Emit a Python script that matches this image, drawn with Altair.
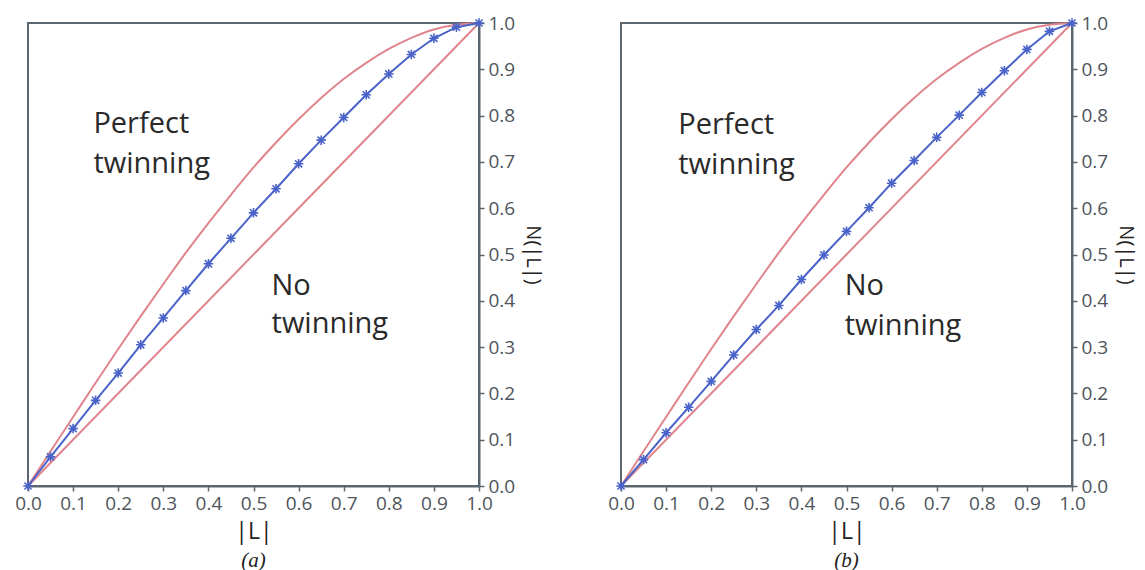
import altair as alt
import pandas as pd

# |L| sampling points
L = [0.0, 0.05, 0.1, 0.15, 0.2, 0.25, 0.3, 0.35, 0.4, 0.45, 0.5,
     0.55, 0.6, 0.65, 0.7, 0.75, 0.8, 0.85, 0.9, 0.95, 1.0]

obs_a = [0.0, 0.063, 0.124, 0.185, 0.244, 0.305, 0.363, 0.422, 0.480, 0.535, 0.590,
         0.642, 0.696, 0.747, 0.796, 0.845, 0.890, 0.932, 0.967, 0.991, 1.0]
obs_b = [0.0, 0.057, 0.115, 0.170, 0.226, 0.283, 0.338, 0.390, 0.446, 0.499, 0.550,
         0.601, 0.654, 0.703, 0.753, 0.801, 0.850, 0.897, 0.943, 0.982, 1.0]

# reference curves (red)
perfect = [0.0, 0.075, 0.149, 0.223, 0.296, 0.367, 0.436, 0.504, 0.568, 0.629, 0.688,
           0.742, 0.792, 0.838, 0.879, 0.914, 0.944, 0.968, 0.986, 0.996, 1.0]
no_twin_x = [0.0, 1.0]
no_twin_y = [0.0, 1.0]

# annotation texts (one row per line)
ann_text = ["Perfect", "twinning", "No", "twinning"]
ann_x_a = [0.145, 0.145, 0.54, 0.54]
ann_y_a = [0.763, 0.676, 0.413, 0.330]
ann_x_b = [0.127, 0.127, 0.496, 0.496]
ann_y_b = [0.760, 0.673, 0.412, 0.326]

tick_vals = [0.0, 0.1, 0.2, 0.3, 0.4, 0.5, 0.6, 0.7, 0.8, 0.9, 1.0]

RED = "#e0848e"
BLUE = "#4a63c9"
AX = "#5b666e"
LAB = "#4f555b"
FONT = "Open Sans"
ASTERISK = "M-1,0L1,0M0,-1L0,1M-0.75,-0.75L0.75,0.75M-0.75,0.75L0.75,-0.75"

W, H = 451, 463


def panel(obs, ax_, ay_, tag):
    xs = alt.Scale(domain=[0, 1], nice=False)
    ys = alt.Scale(domain=[0, 1], nice=False)
    xax = alt.Axis(values=tick_vals, format=".1f", title="|L|", grid=False,
                   labelFlush=False, labelFontSize=19, labelColor=LAB, labelFont=FONT,
                   labelPadding=3, tickSize=5, tickColor=AX, tickWidth=1.5,
                   domainColor=AX, domainWidth=2, titleFont=FONT, titleFontSize=23,
                   titleFontWeight="normal", titleColor="#222222", titlePadding=7)
    yax = alt.Axis(values=tick_vals, format=".1f", title="N(|L|)", orient="right",
                   grid=False, labelFlush=False, labelFontSize=19, labelColor=LAB,
                   labelFont=FONT, labelPadding=4, tickSize=5, tickColor=AX,
                   tickWidth=1.5, domainColor=AX, domainWidth=2, titleFont=FONT,
                   titleFontSize=20, titleFontWeight="normal", titleColor="#222222",
                   titleAngle=90, titlePadding=8)

    df_p = pd.DataFrame({"L": L, "N": perfect})
    df_n = pd.DataFrame({"L": no_twin_x, "N": no_twin_y})
    df_o = pd.DataFrame({"L": L, "N": obs})
    df_t = pd.DataFrame({"t": ann_text, "x": ax_, "y": ay_})

    x = alt.X("L:Q", scale=xs, axis=xax)
    y = alt.Y("N:Q", scale=ys, axis=yax)

    perf = alt.Chart(df_p).mark_line(color=RED, strokeWidth=2, interpolate="monotone").encode(x=x, y=y)
    notw = alt.Chart(df_n).mark_line(color=RED, strokeWidth=2).encode(x=x, y=y)
    line = alt.Chart(df_o).mark_line(color=BLUE, strokeWidth=2).encode(x=x, y=y)
    pts = alt.Chart(df_o).mark_point(shape=ASTERISK, size=90, color=BLUE, filled=False,
                                     strokeWidth=1.6, opacity=1).encode(x=x, y=y)
    txt = alt.Chart(df_t).mark_text(align="left", baseline="alphabetic", font=FONT,
                                    fontSize=29, color="#2a2a2a").encode(
        x=alt.X("x:Q", scale=xs), y=alt.Y("y:Q", scale=ys), text="t:N")

    return alt.layer(notw, perf, line, pts, txt).properties(
        width=W, height=H,
        title=alt.TitleParams(tag, orient="bottom", font="Liberation Serif",
                              fontStyle="italic", fontWeight="normal", fontSize=21,
                              color="#222222", offset=7, anchor="middle"))


chart = alt.hconcat(panel(obs_a, ann_x_a, ann_y_a, "(a)"),
                    panel(obs_b, ann_x_b, ann_y_b, "(b)"),
                    spacing=62).properties(
    padding={"left": 5, "top": 5, "right": 0, "bottom": 0}
).configure_view(stroke=AX, strokeWidth=2).configure_concat(spacing=62)

chart.save("out.html", embed_options={"renderer": "svg", "actions": False})
